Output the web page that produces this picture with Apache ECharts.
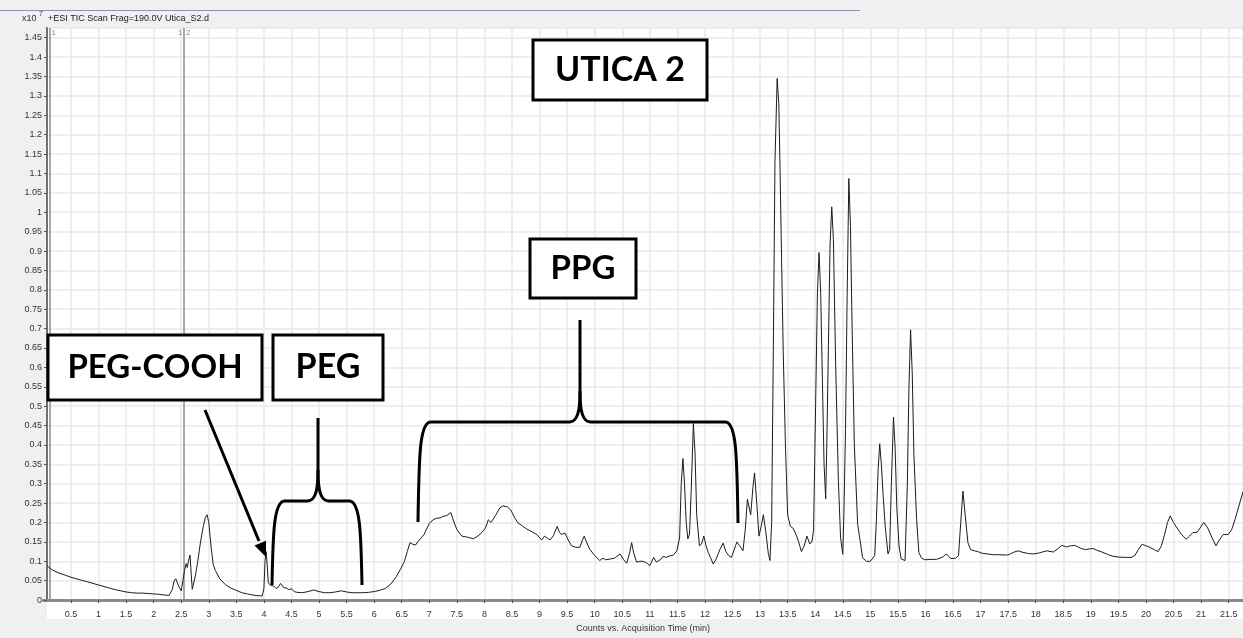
<!DOCTYPE html>
<html><head><meta charset="utf-8">
<script src="https://cdn.jsdelivr.net/npm/echarts@6/dist/echarts.min.js"></script>
<style>html,body{margin:0;padding:0;background:#fff}#c{width:1243px;height:638px}</style>
</head><body><div id="c"></div>
<script>
// Retention time (min) / TIC counts (x10^7)
const ticTrace = [
[0.07,0.088],[0.1,0.084],[0.15,0.079],[0.2,0.075],[0.3,0.069],[0.4,0.064],[0.5,0.059],[0.6,0.055],[0.7,0.051],[0.8,0.047],[0.9,0.043],[1.0,0.039],[1.1,0.035],[1.2,0.031],[1.3,0.027],[1.4,0.024],[1.5,0.021],[1.6,0.019],[1.7,0.018],[1.8,0.018],[1.9,0.017],[2.0,0.016],[2.1,0.015],[2.2,0.013],[2.28,0.012],[2.31,0.011],[2.34,0.028],[2.37,0.049],[2.4,0.055],[2.43,0.05],[2.46,0.034],[2.5,0.024],[2.53,0.05],[2.56,0.076],[2.59,0.094],[2.61,0.084],[2.63,0.1],[2.66,0.116],[2.68,0.07],[2.7,0.028],[2.72,0.03],[2.76,0.065],[2.8,0.1],[2.85,0.15],[2.9,0.19],[2.94,0.214],[2.97,0.22],[3.0,0.2],[3.04,0.14],[3.08,0.092],[3.12,0.076],[3.2,0.055],[3.3,0.04],[3.4,0.031],[3.5,0.025],[3.6,0.019],[3.7,0.016],[3.8,0.013],[3.9,0.011],[3.97,0.011],
[4.0,0.03],[4.02,0.1],[4.04,0.125],[4.06,0.09],[4.08,0.045],[4.12,0.038],[4.18,0.036],[4.22,0.03],[4.26,0.033],[4.3,0.043],[4.33,0.04],[4.36,0.032],[4.41,0.031],[4.45,0.027],[4.5,0.029],[4.55,0.022],[4.6,0.02],[4.7,0.019],[4.8,0.022],[4.9,0.026],[5.0,0.022],[5.1,0.019],[5.2,0.019],[5.3,0.021],[5.4,0.024],[5.5,0.021],[5.6,0.019],[5.7,0.019],[5.8,0.019],[5.9,0.02],[6.0,0.022],[6.1,0.025],[6.2,0.03],[6.3,0.041],[6.4,0.06],[6.47,0.078],[6.55,0.1],[6.6,0.125],[6.65,0.148],[6.7,0.144],[6.75,0.142],[6.8,0.152],[6.9,0.168],
[7.0,0.198],[7.07,0.207],[7.13,0.211],[7.2,0.212],[7.25,0.216],[7.32,0.218],[7.39,0.226],[7.45,0.2],[7.5,0.182],[7.59,0.165],[7.7,0.162],[7.8,0.158],[7.88,0.165],[7.95,0.174],[8.02,0.186],[8.07,0.207],[8.12,0.2],[8.2,0.218],[8.28,0.238],[8.34,0.243],[8.42,0.24],[8.48,0.232],[8.55,0.212],[8.61,0.199],[8.7,0.19],[8.76,0.184],[8.85,0.177],[8.95,0.169],[9.04,0.155],[9.09,0.165],[9.14,0.16],[9.19,0.155],[9.25,0.166],[9.32,0.19],[9.36,0.175],[9.4,0.169],[9.46,0.173],[9.52,0.155],[9.58,0.14],[9.66,0.136],[9.73,0.136],[9.78,0.155],[9.81,0.165],[9.85,0.15],[9.91,0.131],
[10.0,0.115],[10.09,0.102],[10.15,0.108],[10.2,0.104],[10.28,0.106],[10.36,0.108],[10.46,0.119],[10.52,0.105],[10.58,0.095],[10.63,0.12],[10.67,0.148],[10.71,0.12],[10.76,0.098],[10.82,0.1],[10.88,0.1],[10.95,0.095],[11.0,0.089],[11.07,0.11],[11.12,0.098],[11.15,0.093],[11.2,0.105],[11.24,0.113],[11.3,0.11],[11.36,0.114],[11.42,0.115],[11.49,0.127],[11.54,0.16],[11.57,0.3],[11.6,0.365],[11.63,0.3],[11.66,0.2],[11.69,0.158],[11.72,0.17],[11.75,0.28],[11.79,0.455],[11.82,0.38],[11.85,0.22],[11.9,0.14],[11.94,0.145],[11.98,0.165],
[12.02,0.14],[12.06,0.123],[12.1,0.11],[12.15,0.093],[12.2,0.105],[12.27,0.13],[12.33,0.147],[12.38,0.125],[12.43,0.115],[12.48,0.11],[12.53,0.13],[12.58,0.15],[12.63,0.14],[12.69,0.127],[12.73,0.18],[12.77,0.26],[12.8,0.262],[12.83,0.22],[12.87,0.29],[12.9,0.328],[12.94,0.25],[12.98,0.165],[13.02,0.19],[13.06,0.22],[13.1,0.18],[13.15,0.12],[13.18,0.102],[13.21,0.2],[13.24,0.64],[13.27,1.13],[13.31,1.345],[13.34,1.28],[13.36,1.13],[13.39,0.88],[13.42,0.64],[13.46,0.4],[13.5,0.22],[13.55,0.19],[13.6,0.185],[13.65,0.17],[13.7,0.15],[13.75,0.125],[13.8,0.14],[13.85,0.165],[13.9,0.145],[13.94,0.15],[13.97,0.18],
[14.01,0.526],[14.04,0.79],[14.07,0.896],[14.1,0.79],[14.13,0.571],[14.16,0.353],[14.19,0.261],[14.21,0.4],[14.24,0.657],[14.27,0.918],[14.3,1.014],[14.33,0.93],[14.37,0.614],[14.42,0.309],[14.46,0.162],[14.5,0.118],[14.52,0.22],[14.55,0.44],[14.58,0.79],[14.61,1.087],[14.64,0.963],[14.67,0.7],[14.71,0.4],[14.77,0.196],[14.86,0.109],[14.93,0.1],[15.0,0.1],[15.08,0.115],[15.11,0.207],[15.14,0.333],[15.17,0.403],[15.2,0.35],[15.23,0.275],[15.27,0.19],[15.32,0.119],[15.35,0.13],[15.38,0.291],[15.42,0.472],[15.45,0.392],[15.48,0.241],[15.52,0.14],[15.56,0.106],[15.63,0.102],[15.67,0.291],[15.7,0.544],[15.73,0.697],[15.76,0.586],[15.79,0.376],[15.84,0.207],[15.88,0.123],[15.93,0.108],[15.99,0.104],
[16.1,0.105],[16.2,0.105],[16.3,0.11],[16.38,0.119],[16.46,0.107],[16.55,0.108],[16.6,0.115],[16.64,0.2],[16.68,0.281],[16.72,0.22],[16.77,0.148],[16.82,0.13],[16.89,0.127],[16.95,0.125],[17.02,0.121],[17.12,0.119],[17.23,0.117],[17.35,0.117],[17.47,0.116],[17.53,0.118],[17.59,0.123],[17.68,0.127],[17.77,0.123],[17.87,0.12],[17.95,0.119],[18.05,0.121],[18.12,0.124],[18.2,0.127],[18.32,0.124],[18.4,0.132],[18.47,0.141],[18.56,0.137],[18.63,0.14],[18.71,0.141],[18.78,0.136],[18.83,0.133],[18.9,0.13],[18.97,0.132],[19.04,0.133],[19.1,0.129],[19.22,0.123],[19.3,0.118],[19.4,0.113],[19.5,0.111],[19.65,0.11],[19.73,0.11],[19.8,0.115],[19.86,0.13],[19.93,0.144],
[20.0,0.14],[20.07,0.136],[20.15,0.13],[20.22,0.125],[20.28,0.14],[20.34,0.17],[20.39,0.2],[20.44,0.217],[20.5,0.2],[20.55,0.189],[20.64,0.17],[20.73,0.157],[20.79,0.165],[20.85,0.174],[20.93,0.175],[21.0,0.19],[21.05,0.2],[21.12,0.186],[21.2,0.16],[21.27,0.14],[21.33,0.155],[21.4,0.169],[21.49,0.169],[21.55,0.18],[21.62,0.21],[21.7,0.25],[21.76,0.279]
];
const markerTimes = [0.11, 2.55];
const titleText = '+ESI TIC Scan Frag=190.0V Utica_S2.d';
const xAxisTitle = 'Counts vs. Acquisition Time (min)';
const annotations = ['UTICA 2', 'PPG', 'PEG-COOH', 'PEG'];

const chart = echarts.init(document.getElementById('c'), null, {renderer: 'canvas'});
const fmt = v => {
  const r = Math.round(v * 100) / 100;
  if (Math.abs(r * 20 - Math.round(r * 20)) > 1e-6) return '';
  return String(r);
};
chart.setOption({
  animation: false,
  backgroundColor: '#f0f0f0',
  grid: {left: 43.4, right: 0, top: 28, bottom: 26, containLabel: false},
  xAxis: {
    type: 'value', min: 0, max: 21.76, interval: 0.5, offset: 7,
    name: xAxisTitle, nameLocation: 'middle', nameGap: 15,
    nameTextStyle: {fontSize: 9, color: '#333', fontFamily: 'Liberation Sans'},
    axisLine: {show: true, lineStyle: {color: '#8a8a8a', width: 3}},
    axisTick: {show: true, length: 3, lineStyle: {color: '#555'}},
    axisLabel: {fontSize: 9, color: '#333', margin: 3, fontFamily: 'Liberation Sans',
      formatter: v => (v === 0 ? '' : fmt(v)), showMinLabel: false, showMaxLabel: false},
    splitLine: {show: true, showMinLine: false, lineStyle: {color: '#e8e8e8', width: 1.5}}
  },
  yAxis: {
    type: 'value', min: 0, max: 1.475, interval: 0.05, offset: -3.6,
    axisLine: {show: true, lineStyle: {color: '#707070', width: 2}},
    axisTick: {show: true, length: 3, lineStyle: {color: '#555'}},
    axisLabel: {fontSize: 9, color: '#333', margin: 5, fontFamily: 'Liberation Sans', formatter: fmt, showMaxLabel: false},
    splitLine: {show: true, lineStyle: {color: '#e8e8e8', width: 1.5}}
  },
  series: [{
    type: 'line', data: ticTrace, showSymbol: false, symbol: 'none',
    lineStyle: {color: '#1c1c1c', width: 1}, z: 5,
    markLine: {
      silent: true, symbol: ['none', 'none'], label: {show: false},
      lineStyle: {color: '#8c8c8c', width: 1.5, type: 'solid'},
      data: markerTimes.map(t => ({xAxis: t}))
    }
  }]
});

const px = t => chart.convertToPixel({xAxisIndex: 0}, t);
const m0 = px(markerTimes[0]), m1 = px(markerTimes[1]);
const box = (x, y, w, h, text, fs) => [
  {type: 'rect', z: 60, shape: {x: x, y: y, width: w, height: h}, style: {fill: '#fff', stroke: '#000', lineWidth: 3}},
  {type: 'text', z: 61, x: x + w / 2, y: y + h / 2, style: {text: text, fill: '#000', font: 'bold ' + fs + 'px Lato', align: 'center', verticalAlign: 'middle'}}
];
const stroke = {fill: null, stroke: '#000', lineWidth: 3};
const ln = (x1, y1, x2, y2) => ({type: 'line', z: 50, shape: {x1, y1, x2, y2}, style: stroke});
const bz = (x1, y1, cpx1, cpy1, cpx2, cpy2, x2, y2) => ({type: 'bezierCurve', z: 50, shape: {x1, y1, cpx1, cpy1, cpx2, cpy2, x2, y2}, style: stroke});
// curly brace: legs at xl/xr down to yb, bar at ym, tip at (xc, yt)
const brace = (xl, xr, xc, yb, ym, yt, yLegB) => [
  bz(xl, yb, xl + 1, ym + 30, xl + 2, ym + 2, xl + 12, ym),
  ln(xl + 12, ym, xc - 10, ym),
  bz(xc - 10, ym, xc - 3, ym - 1, xc, ym - 9, xc, ym - 31),
  ln(xc, ym - 31, xc, yt),
  bz(xc, ym - 31, xc, ym - 9, xc + 3, ym - 1, xc + 10, ym),
  ln(xc + 10, ym, xr - 12, ym),
  bz(xr - 12, ym, xr - 2, ym + 2, xr - 1, ym + 30, xr, yLegB)
];
chart.setOption({
  graphic: [
    {type: 'rect', z: -10, shape: {x: 47, y: 28, width: 1196, height: 591}, style: {fill: '#fff'}},
    {type: 'line', z: 10, shape: {x1: 0, y1: 10.5, x2: 860, y2: 10.5}, style: {stroke: '#8797b0', lineWidth: 1}},
    {type: 'text', z: 10, x: 22, y: 14, style: {text: 'x10', font: '9px Liberation Sans', fill: '#333'}},
    {type: 'text', z: 10, x: 39, y: 11, style: {text: '7', font: '7px Liberation Sans', fill: '#333'}},
    {type: 'text', z: 10, x: 48, y: 14, style: {text: titleText, font: '9px Liberation Sans', fill: '#222'}},
    {type: 'text', z: 10, x: m0 + 2, y: 29, style: {text: '1', font: '8px Liberation Sans', fill: '#888'}},
    {type: 'text', z: 10, x: m1 - 6, y: 29, style: {text: '1', font: '8px Liberation Sans', fill: '#888'}},
    {type: 'text', z: 10, x: m1 + 2, y: 29, style: {text: '2', font: '8px Liberation Sans', fill: '#888'}},
    ...box(533, 40, 174, 60, annotations[0], 34),
    ...box(530, 239, 106, 59, annotations[1], 33),
    ...box(48, 335, 214, 65, annotations[2], 33),
    ...box(273, 335, 110, 65, annotations[3], 34),
    ln(205, 410, 259, 541),
    {type: 'polygon', z: 50, shape: {points: [[266, 557], [254.5, 545.6], [266, 540.8]]}, style: {fill: '#000'}},
    ...brace(272, 362, 318, 585, 501, 418, 585),
    ...brace(418, 738, 580, 522, 422, 320, 523)
  ]
});
</script>
</body></html>
